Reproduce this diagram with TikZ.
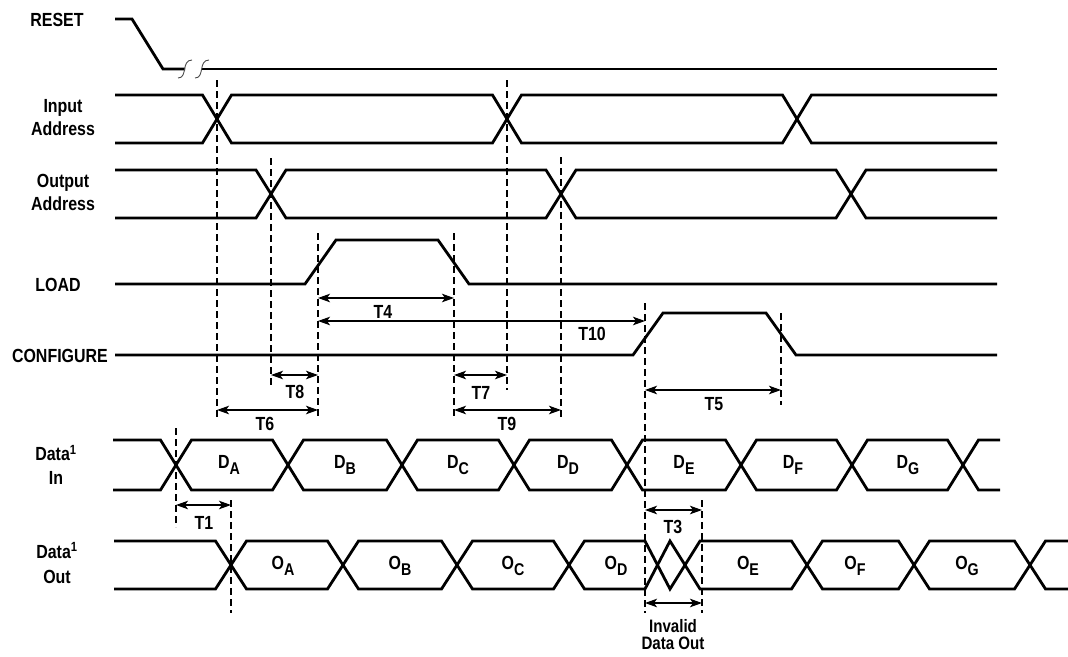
\documentclass[tikz,border=0pt]{standalone}
\usepackage{fontspec}
\usetikzlibrary{arrows.meta}
\newfontfamily\lbl{Liberation Sans}[FakeStretch=0.84]
\newcommand{\sbx}[2]{#1\raisebox{-6.5pt}{\fontsize{17}{17}\selectfont #2}}
\begin{document}
\begin{tikzpicture}[x=1pt,y=-1pt,
  sig/.style={line width=2.8pt,line join=miter,line cap=butt},
  guide/.style={line width=1.4pt,dash pattern=on 7pt off 4pt},
  dim/.style={line width=1.4pt,<->,>={Stealth[length=12pt,width=8.5pt,inset=3pt]}},
  lab/.style={font=\lbl\bfseries\fontsize{19}{23}\selectfont,inner sep=0pt,align=center},
  tlab/.style={font=\lbl\bfseries\fontsize{19}{19}\selectfont,inner sep=0pt},
  brk/.style={line width=0.9pt,black!70}]
\useasboundingbox (0,0) rectangle (1068,656);

% ---- signal names
\node[lab] (nreset) at (57,20) {RESET};
\node[lab] (ninaddr) at (63,118) {Input\\Address};
\node[lab] (noutaddr) at (63,192) {Output\\Address};
\node[lab] (nload) at (58,285) {LOAD};
\node[lab,anchor=east] (nconf) at (108,356) {CONFIGURE};
\node[lab,font=\lbl\bfseries\fontsize{19}{24}\selectfont] (ndin) at (56,465) {Data\textsuperscript{1}\\In};
\node[lab,font=\lbl\bfseries\fontsize{19}{25}\selectfont] (ndout) at (57,563) {Data\textsuperscript{1}\\Out};

% ---- RESET
\draw[sig] (115,19) -- (132,19) -- (163,69) -- (185,69);
\draw[sig] (202,69) -- (997,69);
\draw[brk] (178,78) .. controls (188,78) and (181,60) .. (192,60);
\draw[brk] (195,78) .. controls (205,78) and (198,60) .. (209,60);

% ---- Input Address
\draw[sig] (115,95)--(202.5,95)--(231.5,143)--(492.5,143)--(521.5,95)--(782.5,95)--(811.5,143)--(997,143);
\draw[sig] (115,143)--(202.5,143)--(231.5,95)--(492.5,95)--(521.5,143)--(782.5,143)--(811.5,95)--(997,95);

% ---- Output Address
\draw[sig] (115,170)--(256,170)--(286,218)--(546,218)--(576,170)--(836,170)--(866,218)--(997,218);
\draw[sig] (115,218)--(256,218)--(286,170)--(546,170)--(576,218)--(836,218)--(866,170)--(997,170);

% ---- LOAD
\draw[sig] (115,284)--(305,284)--(336,240)--(438,240)--(469,284)--(997,284);

% ---- CONFIGURE
\draw[sig] (115,355)--(633,355)--(663,313)--(766,313)--(796,355)--(997,355);

% ---- Data In
\draw[sig] (113,440)--(160.5,440)--(191.5,490)--(272.5,490)--(303.5,440)--(386.5,440)--(417.5,490)--(498.5,490)--(529.5,440)--(611.5,440)--(642.5,490)--(725.5,490)--(756.5,440)--(836.5,440)--(867.5,490)--(947.5,490)--(978.5,440)--(1000,440);
\draw[sig] (113,490)--(160.5,490)--(191.5,440)--(272.5,440)--(303.5,490)--(386.5,490)--(417.5,440)--(498.5,440)--(529.5,490)--(611.5,490)--(642.5,440)--(725.5,440)--(756.5,490)--(836.5,490)--(867.5,440)--(947.5,440)--(978.5,490)--(1000,490);

% ---- Data Out
\draw[sig] (114,541)--(215.5,541)--(246.5,589)--(327.5,589)--(358.5,541)--(441.5,541)--(472.5,589)--(553.5,589)--(584.5,541)--(645,541)--(670,589)--(700,541)--(791.5,541)--(822.5,589)--(898.5,589)--(929.5,541)--(1014.5,541)--(1045.5,589)--(1068,589);
\draw[sig] (114,589)--(215.5,589)--(246.5,541)--(327.5,541)--(358.5,589)--(441.5,589)--(472.5,541)--(553.5,541)--(584.5,589)--(645,589)--(670,541)--(700,589)--(791.5,589)--(822.5,541)--(898.5,541)--(929.5,589)--(1014.5,589)--(1045.5,541)--(1068,541);

% ---- data labels
\node[tlab] (da) at (229,465) {\sbx{D}{A}};
\node[tlab] (db) at (345,465) {\sbx{D}{B}};
\node[tlab] (dc) at (458,465) {\sbx{D}{C}};
\node[tlab] (dd) at (568,465) {\sbx{D}{D}};
\node[tlab] (de) at (684,465) {\sbx{D}{E}};
\node[tlab] (df) at (793,465) {\sbx{D}{F}};
\node[tlab] (dg) at (908,465) {\sbx{D}{G}};
\node[tlab] (oa) at (283,566) {\sbx{O}{A}};
\node[tlab] (ob) at (400,566) {\sbx{O}{B}};
\node[tlab] (oc) at (513,566) {\sbx{O}{C}};
\node[tlab] (od) at (616,566) {\sbx{O}{D}};
\node[tlab] (oe) at (748,566) {\sbx{O}{E}};
\node[tlab] (of) at (855,566) {\sbx{O}{F}};
\node[tlab] (og) at (967,566) {\sbx{O}{G}};

% ---- guide lines
\coordinate (g1a) at (217,80);  \coordinate (g1b) at (217,418);
\coordinate (g2a) at (507,80);  \coordinate (g2b) at (507,390);
\coordinate (g3a) at (271,158); \coordinate (g3b) at (271,385);
\coordinate (g4a) at (561,157); \coordinate (g4b) at (561,418);
\coordinate (g5a) at (318,233); \coordinate (g5b) at (318,418);
\coordinate (g6a) at (454,233); \coordinate (g6b) at (454,418);
\coordinate (g7a) at (645,303); \coordinate (g7b) at (645,613);
\coordinate (g8a) at (781,313); \coordinate (g8b) at (781,405);
\coordinate (g9a) at (176,428); \coordinate (g9b) at (176,527);
\coordinate (g10a) at (231,500); \coordinate (g10b) at (231,613);
\coordinate (g11a) at (702,500); \coordinate (g11b) at (702,613);
\foreach \g in {g1,g2,g3,g4,g5,g6,g7,g8,g9,g10,g11}
  \draw[guide] (\g a) -- (\g b);

% ---- timing arrows
\coordinate (t4a) at (318,298);  \coordinate (t4b) at (454,298);
\coordinate (t10a) at (318,321); \coordinate (t10b) at (645,321);
\coordinate (t8a) at (271,375);  \coordinate (t8b) at (318,375);
\coordinate (t7a) at (454,375);  \coordinate (t7b) at (507,375);
\coordinate (t6a) at (217,410);  \coordinate (t6b) at (318,410);
\coordinate (t9a) at (454,410);  \coordinate (t9b) at (561,410);
\coordinate (t5a) at (645,390);  \coordinate (t5b) at (781,390);
\coordinate (t1a) at (176,505);  \coordinate (t1b) at (231,505);
\coordinate (t3a) at (645,510);  \coordinate (t3b) at (702,510);
\coordinate (iva) at (645,603);  \coordinate (ivb) at (702,603);
\foreach \t in {t4,t10,t8,t7,t6,t9,t5,t1,t3,iv}
  \draw[dim] (\t a) -- (\t b);

\node[tlab] (lt4) at (383,312) {T4};
\node[tlab] (lt10) at (592,334) {T10};
\node[tlab] (lt8) at (295,392) {T8};
\node[tlab] (lt7) at (481,393) {T7};
\node[tlab] (lt6) at (265,424) {T6};
\node[tlab] (lt9) at (507,424) {T9};
\node[tlab] (lt5) at (714,404) {T5};
\node[tlab] (lt1) at (204,523) {T1};
\node[tlab] (lt3) at (673,527) {T3};
\node[lab,font=\lbl\bfseries\fontsize{18}{17}\selectfont] (linv) at (673,635) {Invalid\\Data Out};
\end{tikzpicture}
\end{document}
